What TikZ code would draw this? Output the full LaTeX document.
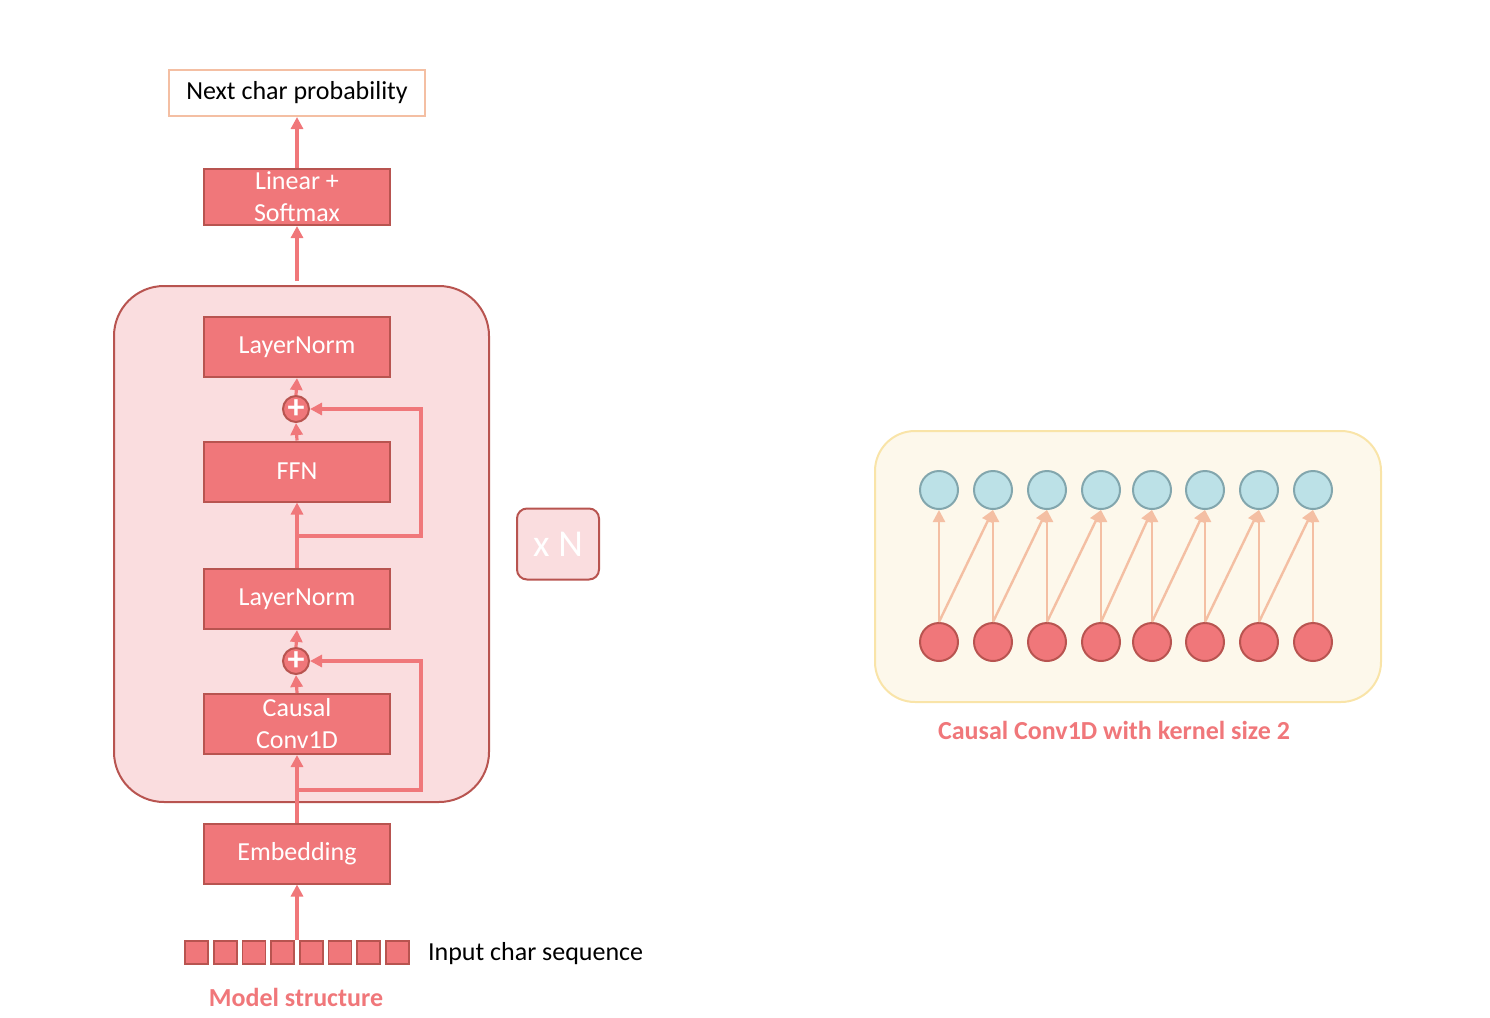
\documentclass[tikz,border=0pt]{standalone}
\usepackage{fontspec}
\setmainfont{Carlito}
\usetikzlibrary{arrows.meta,positioning}

\definecolor{blockred}{HTML}{F0777A}
\definecolor{edgered}{HTML}{B85450}
\definecolor{stackpink}{HTML}{FADDDF}
\definecolor{peach}{HTML}{F4BFA3}
\definecolor{cellblue}{HTML}{BCE1E7}
\definecolor{edgeblue}{HTML}{82A6AD}
\definecolor{paleyellow}{HTML}{FDF8EB}
\definecolor{edgeyellow}{HTML}{F9E4A8}

\begin{document}
\begin{tikzpicture}[x=0.5pt, y=-0.5pt, font=\fontsize{13}{16}\selectfont,
        block/.style = {draw=edgered, fill=blockred, line width=1pt, text=white, minimum width=93pt, minimum height=30pt, inner sep=0pt, align=center},
        addnode/.style = {circle, draw=edgered, fill=blockred, line width=1pt, text=white, minimum size=13pt, inner sep=0pt, font=\fontsize{17}{17}\selectfont\bfseries},
        cell/.style = {draw=edgered, fill=blockred, line width=0.8pt, minimum size=11.5pt, inner sep=0pt},
        flow/.style = {draw=blockred, line width=1.6pt, -{Triangle[width=6pt,length=6pt]}},
        convarrow/.style = {draw=peach, line width=1.2pt, -{Triangle[width=6pt,length=6pt]}},
        outcell/.style = {circle, draw=edgeblue, fill=cellblue, line width=1pt, minimum size=19pt, inner sep=0pt},
        incell/.style = {circle, draw=edgered, fill=blockred, line width=1pt, minimum size=19pt, inner sep=0pt}]
        \useasboundingbox (0,0) rectangle (1490,1018);

        \node[draw=edgered, fill=stackpink, line width=1pt, rounded corners=25pt, minimum width=187.5pt, minimum height=258pt] (stack) at (301.5,544) {};
        \node[draw=edgered, fill=stackpink, line width=1pt, rounded corners=5pt, minimum width=41pt, minimum height=35.5pt, text=white, font=\fontsize{19}{19}\selectfont] (times) at (558,544) {x N};

        \node[draw=peach, fill=white, line width=1pt, minimum width=128pt, minimum height=23pt] (prob) at (297,93) {Next char probability};
        \node[block, minimum height=28pt] (lin) at (297,197) {Linear +\\Softmax};
        \node[block] (ln1) at (297,347) {LayerNorm};
        \node[addnode] (plus2) at (296,409) {+};
        \node[block] (ffn) at (297,471.5) {FFN};
        \node[block] (ln2) at (297,599) {LayerNorm};
        \node[addnode] (plus1) at (296,661) {+};
        \node[block] (conv) at (297,724) {Causal\\Conv1D};
        \node[block] (emb) at (297,853.5) {Embedding};

        \foreach \i in {0,...,7}
            \node[cell] (in\i) at (196.5+28.7*\i,952.5) {};
        \node[anchor=west] (seq) at (421,954) {Input char sequence};
        \node[text=blockred, font=\fontsize{13}{16}\selectfont\bfseries] (cap1) at (296,997) {Model structure};

        \coordinate (skip) at (421,0);
        \coordinate (fork1) at (297,790);
        \coordinate (fork2) at (297,536);

        \draw[flow] (emb.south |- in0.north) -- (emb.south);
        \draw[flow] (emb.north) -- (conv.south);
        \draw[flow] (fork1) -- (fork1 -| skip) |- (plus1.east);
        \draw[flow] (conv.north) -- (plus1.south);
        \draw[flow] (plus1.north) -- (ln2.south);
        \draw[flow] (ln2.north) -- (ffn.south);
        \draw[flow] (fork2) -- (fork2 -| skip) |- (plus2.east);
        \draw[flow] (ffn.north) -- (plus2.south);
        \draw[flow] (plus2.north) -- (ln1.south);
        \draw[flow] ([yshift=2pt]lin.south |- stack.north) -- (lin.south);
        \draw[flow] (lin.north) -- (prob.south);

        \node[draw=edgeyellow, fill=paleyellow, line width=1pt, rounded corners=20pt, minimum width=253pt, minimum height=135.5pt] (kernel) at (1128,566.5) {};
        \foreach \i/\x in {1/939, 2/993, 3/1047, 4/1101, 5/1152, 6/1205, 7/1259, 8/1313} {
            \node[outcell] (top\i) at (\x,490) {};
            \node[incell] (bot\i) at (\x,642) {};
        }
        \foreach \i in {1,...,8}
            \draw[convarrow] (bot\i.north) -- (top\i.south);
        \foreach \i [evaluate=\i as \j using int(\i+1)] in {1,...,7}
            \draw[convarrow] (bot\i.north) -- (top\j.south);
        \node[text=blockred, font=\fontsize{13}{16}\selectfont\bfseries] (cap2) at (1114,730) {Causal Conv1D with kernel size 2};
\end{tikzpicture}
\end{document}
